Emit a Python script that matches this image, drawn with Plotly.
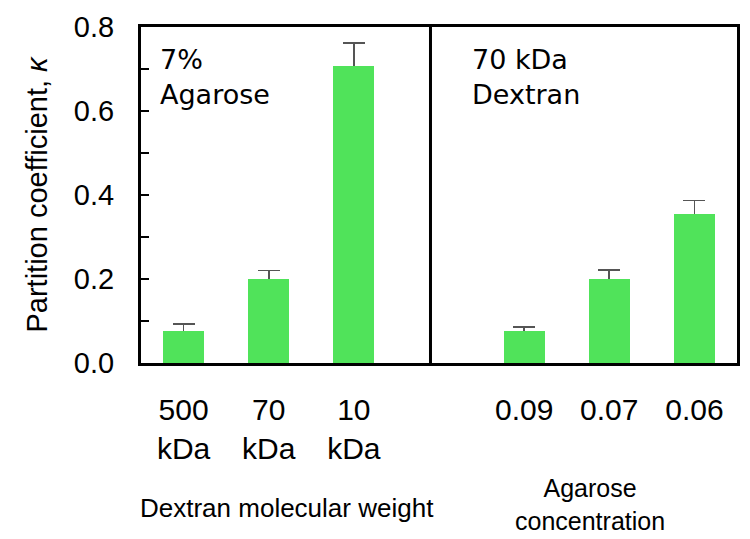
import plotly.graph_objects as go

# ---- data ----
positions = [0, 1, 2, 4, 5, 6]
tick_labels = ["500<br>kDa", "70<br>kDa", "10<br>kDa", "0.09", "0.07", "0.06"]
kappa = [0.074, 0.198, 0.705, 0.075, 0.198, 0.353]
kappa_err = [0.019, 0.022, 0.057, 0.011, 0.023, 0.034]
y_ticks = [0.0, 0.2, 0.4, 0.6, 0.8]
y_tick_labels = ["0.0", "0.2", "0.4", "0.6", "0.8"]

GREEN = "#50E35A"
SANS = "Liberation Sans, Arial, Helvetica, sans-serif"
DJV = "DejaVu Sans, Verdana, sans-serif"

fig = go.Figure()
# bars carrying the upward error bars
fig.add_trace(go.Bar(
    x=positions, y=kappa, width=0.46,
    marker=dict(color=GREEN, line=dict(width=0)),
    error_y=dict(type="data", array=kappa_err, symmetric=False,
                 arrayminus=[0] * len(kappa_err),
                 color="#555555", thickness=1.6, width=11),
    showlegend=False, hoverinfo="skip",
))
# same bars drawn again on top so that the lower caps are hidden
fig.add_trace(go.Bar(
    x=positions, y=kappa, width=0.46,
    marker=dict(color=GREEN, line=dict(width=2, color=GREEN)),
    showlegend=False,
))

# panel divider
fig.add_shape(type="line", xref="x", yref="y", x0=2.9, x1=2.9, y0=0, y1=0.8,
              line=dict(color="black", width=3))

fig.add_annotation(x=-0.3, y=0.851, xref="x", yref="paper", xanchor="left",
                   yanchor="middle", align="left", showarrow=False,
                   text="7%<br>Agarose", font=dict(family=DJV, size=27, color="black"))
fig.add_annotation(x=3.36, y=0.851, xref="x", yref="paper", xanchor="left",
                   yanchor="middle", align="left", showarrow=False,
                   text="70 kDa<br>Dextran", font=dict(family=DJV, size=27, color="black"))

fig.add_annotation(x=1.22, y=-0.4315, xref="x", yref="paper", xanchor="center",
                   yanchor="middle", showarrow=False,
                   text="Dextran molecular weight", font=dict(family=SANS, size=26, color="black"))
fig.add_annotation(x=4.77, y=-0.4226, xref="x", yref="paper", xanchor="center",
                   yanchor="middle", showarrow=False,
                   text="Agarose<br>concentration", font=dict(family=SANS, size=25, color="black"))

fig.update_layout(
    width=742, height=531,
    margin=dict(l=133, r=13, t=19, b=176),
    paper_bgcolor="white", plot_bgcolor="white",
    barmode="overlay", bargap=0,
    xaxis=dict(range=[-0.5, 6.5], tickvals=positions, ticktext=tick_labels,
               showline=True, linecolor="black", linewidth=3, mirror=True,
               ticks="", showgrid=False, zeroline=False, automargin=False,
               tickfont=dict(family=SANS, size=30, color="black"),
               ticklabelstandoff=18),
    yaxis=dict(range=[0, 0.8], tickvals=y_ticks, ticktext=y_tick_labels,
               showline=True, linecolor="black", linewidth=3, mirror=True,
               ticks="inside", ticklen=8, tickwidth=2, tickcolor="black",
               minor=dict(dtick=0.1, ticks="inside", ticklen=8, tickwidth=2, tickcolor="black"),
               showgrid=False, zeroline=False, automargin=False,
               tickfont=dict(family=SANS, size=29, color="black"),
               ticklabelstandoff=18,
               title=dict(text="Partition coefficient, <i>κ</i>",
                          font=dict(family=SANS, size=29, color="black"), standoff=18)),
)

fig.write_html("out.html")
